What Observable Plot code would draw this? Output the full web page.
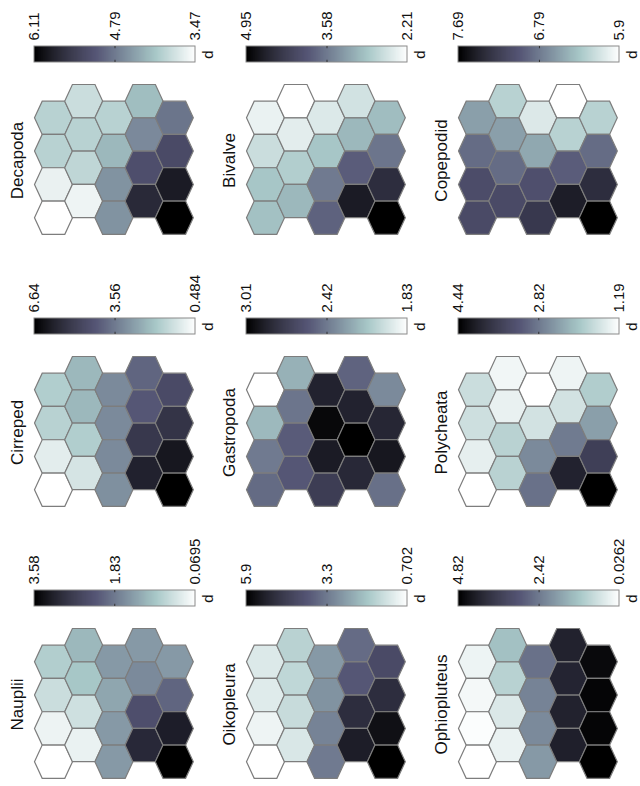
<!DOCTYPE html>
<html>
<head>
<meta charset="utf-8">
<script src="https://cdn.jsdelivr.net/npm/d3@7"></script>
<script src="https://cdn.jsdelivr.net/npm/@observablehq/plot@0.6"></script>
<style>
html, body { margin: 0; padding: 0; background: #fff; }
#fig { position: relative; width: 640px; height: 786px; overflow: hidden; background: #fff;
       font-family: "Liberation Sans", Arial, sans-serif; }
#fig svg { position: absolute; overflow: visible; }
</style>
</head>
<body>
<div id="fig"></div>
<script>
// Panels in reading order of the (rotated) figure
const species = ["Decapoda", "Bivalve", "Copepodid",
                 "Cirreped", "Gastropoda", "Polycheata",
                 "Nauplii", "Oikopleura", "Ophiopluteus"];
const dMax = [6.11, 4.95, 7.69, 6.64, 3.01, 4.44, 3.58, 5.9, 4.82];
const dMin = [3.47, 2.21, 5.9, 0.484, 1.83, 1.19, 0.0695, 0.702, 0.0262];
const midLabels = ["4.79", "3.58", "6.79", "3.56", "2.42", "2.82", "1.83", "3.3", "2.42"];

// 20 map units per panel, listed column by column (left to right), top to bottom
const decapoda     = [4.00, 4.00, 3.63, 3.47,  3.87, 4.00, 3.95, 3.60,  4.00, 4.26, 4.58, 4.58,  4.21, 4.66, 5.19, 5.63,  4.84, 5.24, 5.79, 6.11];
const bivalve      = [2.37, 2.62, 2.90, 2.95,  2.21, 2.43, 2.81, 3.03,  2.48, 2.90, 3.58, 3.80,  2.57, 3.03, 3.85, 4.62,  2.98, 3.63, 4.40, 4.95];
const copepodid    = [6.58, 6.88, 7.08, 7.10,  6.26, 6.58, 6.88, 7.10,  6.08, 6.53, 7.06, 7.24,  5.90, 6.26, 6.97, 7.46,  6.26, 6.88, 7.33, 7.69];
const cirreped     = [1.84, 1.72, 0.98, 0.484, 2.33, 2.33, 1.84, 1.22,  3.25, 3.25, 3.25, 3.13,  3.99, 4.30, 5.10, 5.72,  4.61, 5.22, 6.02, 6.64];
const gastropoda   = [1.83, 2.18, 2.42, 2.48,  2.21, 2.44, 2.54, 2.56,  2.83, 2.97, 2.87, 2.69,  2.51, 2.83, 3.01, 2.80,  2.36, 2.81, 2.89, 2.46];
const polycheata   = [1.68, 1.65, 1.42, 1.19,  1.32, 1.39, 1.84, 1.84,  1.19, 1.61, 2.65, 2.91,  1.35, 1.61, 2.81, 3.95,  1.91, 2.43, 3.53, 4.44];
const nauplii      = [0.84, 0.60, 0.25, 0.0695, 1.12, 0.95, 0.56, 0.28, 1.47, 1.33, 1.47, 1.47,  1.47, 1.65, 2.35, 2.95,  1.47, 2.07, 3.12, 3.58];
const oikopleura   = [1.22, 1.17, 0.96, 0.702, 1.74, 1.64, 1.53, 1.27,  2.78, 2.89, 3.15, 3.30,  3.56, 3.92, 4.86, 5.22,  4.19, 4.86, 5.54, 5.90];
const ophiopluteus = [0.27, 0.17, 0.074, 0.0262, 1.32, 0.99, 0.51, 0.31, 2.57, 2.28, 2.18, 1.94, 4.10, 4.05, 4.10, 4.15, 4.63, 4.72, 4.72, 4.82];
const panelValues = [decapoda, bivalve, copepodid, cirreped, gastropoda, polycheata, nauplii, oikopleura, ophiopluteus];

// reversed "bone" colormap (piecewise linear, breakpoints at 0.375 and 0.75)
const boneRev = ["#ffffff", "#a7c7c7", "#545474", "#000000"];
const FONT = '"Liberation Sans", Arial, sans-serif';

// stretched hexagon with pointed left/right ends
const hexSymbol = {
  draw(ctx) {
    const a = 19, b = 11.3, h = 16.65;
    ctx.moveTo(-a, 0); ctx.lineTo(-b, -h); ctx.lineTo(b, -h);
    ctx.lineTo(a, 0); ctx.lineTo(b, h); ctx.lineTo(-b, h); ctx.closePath();
  }
};

const fig = document.getElementById("fig");

species.forEach((name, k) => {
  const left = 212 * (k % 3), top = 272 * Math.floor(k / 3);
  const lo = dMin[k], hi = dMax[k], span = hi - lo, mid = +midLabels[k];
  const color = {type: "linear", domain: [lo, lo + 0.25 * span, lo + 0.625 * span, hi],
                 range: boneRev, interpolate: "rgb"};
  const N = 160;
  const steps = d3.range(N + 1).map(i => hi - span * i / N);
  const ticks = [{v: hi, t: String(hi)}, {v: mid, t: midLabels[k]}, {v: lo, t: String(lo)}];

  const cbar = Plot.plot({
    width: 212, height: 76, margin: 0,
    x: {domain: [hi, lo], range: [34, 195], axis: null},
    y: {domain: [0, 1], range: [62, 46], axis: null},
    color,
    style: {fontFamily: FONT, background: "transparent", overflow: "visible"},
    marks: [
      Plot.rect(steps.slice(0, -1), {x1: d => d, x2: (d, i) => steps[i + 1], y1: 0, y2: 1,
        fill: d => d, insetRight: -0.6}),
      Plot.rect([0], {x1: hi, x2: lo, y1: 0, y2: 1, fill: "none", stroke: "#8a8a8a", strokeWidth: 1}),
      Plot.ruleX([mid], {y1: 0, y2: 0.14, stroke: "#333", strokeWidth: 1}),
      Plot.ruleX([mid], {y1: 0.86, y2: 1, stroke: "#333", strokeWidth: 1}),
      Plot.text(ticks, {x: "v", y: 1, text: "t", rotate: -90, textAnchor: "start",
        lineAnchor: "middle", dy: -6, fontSize: 15, fill: "#111"}),
      Plot.text(["d"], {x: lo, y: 0.5, text: d => d, dx: 13, rotate: -90, textAnchor: "middle",
        lineAnchor: "middle", fontSize: 15, fill: "#111"})
    ]
  });
  cbar.style.left = left + "px"; cbar.style.top = top + "px";
  fig.appendChild(cbar);

  const cells = panelValues[k].map((v, i) => {
    const c = Math.floor(i / 4), r = i % 4;
    return {c, yi: r + (c % 2 === 0 ? 0.5 : 0), v};
  });

  const map = Plot.plot({
    width: 212, height: 196,
    marginTop: 8, marginBottom: 36, marginLeft: 0, marginRight: 0,
    x: {domain: [0, 4], range: [53, 173.8], axis: null},
    y: {domain: [0, 3.5], range: [24.65, 141.2], axis: null},
    color,
    style: {fontFamily: FONT, background: "transparent", overflow: "visible"},
    marks: [
      Plot.dot(cells, {x: "c", y: "yi", fill: "v", stroke: "#7d7d7d", strokeWidth: 1.2,
        r: 19, symbol: hexSymbol}),
      Plot.text([name], {frameAnchor: "left", text: d => d, dx: 17, rotate: -90,
        textAnchor: "middle", lineAnchor: "middle", fontSize: 17, fill: "#111"})
    ]
  });
  map.style.left = left + "px"; map.style.top = (top + 76) + "px";
  fig.appendChild(map);
});
</script>
</body>
</html>
